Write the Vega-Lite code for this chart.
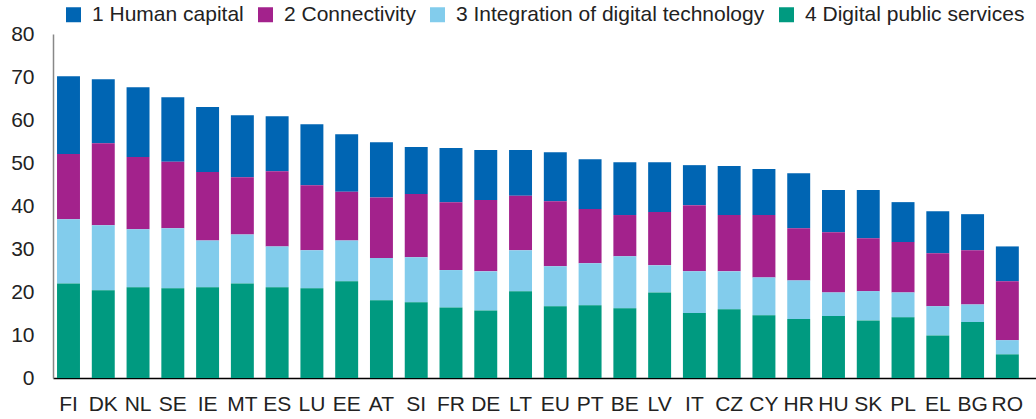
{
  "$schema": "https://vega.github.io/schema/vega-lite/v6.json",
  "width": 983,
  "height": 344,
  "autosize": {"type": "none"},
  "padding": {"left": 53, "top": 34, "right": 0, "bottom": 41},
  "background": "white",
  "config": {
    "view": {"stroke": null},
    "font": "Liberation Sans",
    "axis": {"labelFont": "Liberation Sans", "labelColor": "#222222", "grid": false, "ticks": false, "title": null},
    "legend": {"labelFont": "Liberation Sans", "labelColor": "#222222"}
  },
  "data": {
    "values": [
      {"country": "FI", "dps": 22.0, "idt": 14.9, "con": 15.2, "hc": 18.1},
      {"country": "DK", "dps": 20.4, "idt": 15.1, "con": 19.1, "hc": 14.9},
      {"country": "NL", "dps": 21.1, "idt": 13.5, "con": 16.8, "hc": 16.2},
      {"country": "SE", "dps": 20.9, "idt": 13.9, "con": 15.5, "hc": 15.0},
      {"country": "IE", "dps": 21.1, "idt": 10.9, "con": 15.9, "hc": 15.1},
      {"country": "MT", "dps": 22.0, "idt": 11.4, "con": 13.3, "hc": 14.4},
      {"country": "ES", "dps": 21.1, "idt": 9.5, "con": 17.5, "hc": 12.8},
      {"country": "LU", "dps": 20.9, "idt": 8.8, "con": 15.1, "hc": 14.2},
      {"country": "EE", "dps": 22.5, "idt": 9.5, "con": 11.3, "hc": 13.4},
      {"country": "AT", "dps": 18.1, "idt": 9.8, "con": 14.1, "hc": 12.8},
      {"country": "SI", "dps": 17.6, "idt": 10.5, "con": 14.7, "hc": 10.9},
      {"country": "FR", "dps": 16.4, "idt": 8.7, "con": 15.8, "hc": 12.6},
      {"country": "DE", "dps": 15.7, "idt": 9.1, "con": 16.6, "hc": 11.6},
      {"country": "LT", "dps": 20.2, "idt": 9.5, "con": 12.7, "hc": 10.6},
      {"country": "EU", "dps": 16.7, "idt": 9.3, "con": 15.1, "hc": 11.4},
      {"country": "PT", "dps": 16.9, "idt": 9.8, "con": 12.6, "hc": 11.6},
      {"country": "BE", "dps": 16.2, "idt": 12.1, "con": 9.6, "hc": 12.3},
      {"country": "LV", "dps": 19.9, "idt": 6.3, "con": 12.4, "hc": 11.6},
      {"country": "IT", "dps": 15.1, "idt": 9.7, "con": 15.4, "hc": 9.3},
      {"country": "CZ", "dps": 16.0, "idt": 8.8, "con": 13.1, "hc": 11.4},
      {"country": "CY", "dps": 14.6, "idt": 8.8, "con": 14.5, "hc": 10.7},
      {"country": "HR", "dps": 13.7, "idt": 9.0, "con": 12.1, "hc": 12.8},
      {"country": "HU", "dps": 14.4, "idt": 5.5, "con": 14.0, "hc": 9.8},
      {"country": "SK", "dps": 13.4, "idt": 6.8, "con": 12.3, "hc": 11.2},
      {"country": "PL", "dps": 14.1, "idt": 5.8, "con": 11.7, "hc": 9.3},
      {"country": "EL", "dps": 9.9, "idt": 6.8, "con": 12.3, "hc": 9.8},
      {"country": "BG", "dps": 13.0, "idt": 4.1, "con": 12.6, "hc": 8.4},
      {"country": "RO", "dps": 5.5, "idt": 3.3, "con": 13.7, "hc": 8.1}
    ]
  },
  "transform": [
    {"fold": ["hc", "con", "idt", "dps"], "as": ["key", "value"]},
    {"lookup": "key", "from": {"data": {"values": [
      {"key": "hc", "component": "1 Human capital"},
      {"key": "con", "component": "2 Connectivity"},
      {"key": "idt", "component": "3 Integration of digital technology"},
      {"key": "dps", "component": "4 Digital public services"}
    ]}, "key": "key", "fields": ["component"]}}
  ],
  "mark": {"type": "bar"},
  "encoding": {
    "x": {
      "field": "country", "type": "nominal", "sort": null,
      "scale": {"paddingInner": 0.34, "paddingOuter": 0.305, "align": 0.19},
      "axis": {"labelAngle": 0, "labelFontSize": 21, "labelPadding": 15, "domainColor": "#000000", "domainWidth": 1.5}
    },
    "y": {
      "field": "value", "type": "quantitative", "stack": "zero",
      "scale": {"domain": [0, 80], "nice": false},
      "axis": {"values": [0, 10, 20, 30, 40, 50, 60, 70, 80], "labelFontSize": 21, "labelPadding": 19, "domainColor": "#888888", "domainWidth": 1.5}
    },
    "color": {
      "field": "component", "type": "nominal",
      "scale": {
        "domain": ["1 Human capital", "2 Connectivity", "3 Integration of digital technology", "4 Digital public services"],
        "range": ["#0065b3", "#a3228c", "#82ccec", "#009a80"]
      },
      "legend": {
        "orient": "none", "legendX": 10, "legendY": -30, "direction": "horizontal", "title": null, "padding": 0,
        "symbolType": "square", "symbolSize": 225, "symbolStrokeWidth": 0, "symbolOpacity": 1,
        "labelFontSize": 21, "labelLimit": 500, "labelOffset": 8, "columnPadding": 11
      }
    },
    "order": {"field": "component", "sort": "descending"}
  }
}
